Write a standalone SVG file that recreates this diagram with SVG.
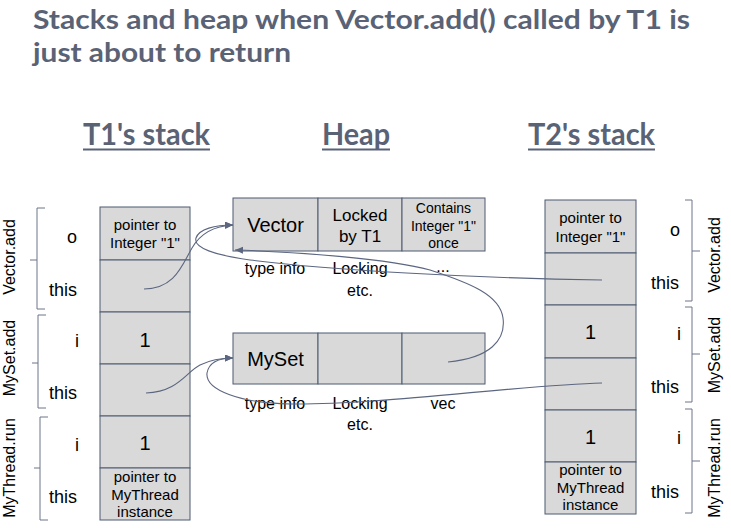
<svg xmlns="http://www.w3.org/2000/svg" width="731" height="528" viewBox="0 0 731 528">
<style>
.title{font-family:Lato,"Open Sans","Liberation Sans",sans-serif;font-weight:bold;fill:#5a6276}
.cell{fill:#d9d9d9;stroke:#4f5a70;stroke-width:1}
.t{font-family:"Liberation Sans",Arial,sans-serif;fill:#000;text-anchor:middle}
.lbl{font-family:"Liberation Sans",Arial,sans-serif;fill:#000;font-size:18px;text-anchor:middle}
.rot{font-family:"Liberation Sans",Arial,sans-serif;fill:#000;font-size:16px;text-anchor:middle}
.br{fill:none;stroke:#6b7489;stroke-width:1}
.conn{fill:none;stroke:#5b6680;stroke-width:1.1}
.ul{stroke:#5a6276;stroke-width:2}
</style>
<defs>
<marker id="arr" markerUnits="userSpaceOnUse" markerWidth="9" markerHeight="8" refX="8" refY="3.5" orient="auto">
<path d="M0,0 L8,3.5 L0,7 z" fill="#5b6680"/>
</marker>
</defs>
<rect width="731" height="528" fill="#fff"/>

<g id="title">
<text class="title" x="33" y="29" font-size="27" textLength="657" lengthAdjust="spacingAndGlyphs">Stacks and heap when Vector.add() called by T1 is</text>
<text class="title" x="33" y="62" font-size="27" textLength="258" lengthAdjust="spacingAndGlyphs">just about to return</text>
</g>

<g id="headings">
<text class="title" x="83" y="145" font-size="30" textLength="127" lengthAdjust="spacingAndGlyphs">T1's stack</text>
<line class="ul" x1="83" y1="149.5" x2="210" y2="149.5"/>
<text class="title" x="322" y="145" font-size="30" textLength="68" lengthAdjust="spacingAndGlyphs">Heap</text>
<line class="ul" x1="322" y1="149.5" x2="390" y2="149.5"/>
<text class="title" x="528" y="145" font-size="30" textLength="127" lengthAdjust="spacingAndGlyphs">T2's stack</text>
<line class="ul" x1="528" y1="149.5" x2="655" y2="149.5"/>
</g>

<g id="t1-stack">
<rect class="cell" x="100" y="207" width="90" height="53"/>
<rect class="cell" x="100" y="260" width="90" height="52"/>
<rect class="cell" x="100" y="312" width="90" height="52"/>
<rect class="cell" x="100" y="364" width="90" height="52"/>
<rect class="cell" x="100" y="416" width="90" height="52"/>
<rect class="cell" x="100" y="468" width="90" height="52"/>
<text class="t" x="145" y="230" font-size="15">pointer to</text>
<text class="t" x="145" y="248" font-size="15">Integer "1"</text>
<text class="t" x="145" y="347" font-size="20">1</text>
<text class="t" x="145" y="450" font-size="20">1</text>
<text class="t" x="145" y="482" font-size="15">pointer to</text>
<text class="t" x="145" y="500" font-size="15">MyThread</text>
<text class="t" x="145" y="517" font-size="15">instance</text>
</g>

<g id="t1-frames">
<path class="br" d="M45,208 H37 V309 H45 M37,260 H30"/>
<path class="br" d="M46,315 H38 V408 H46 M38,363 H32"/>
<path class="br" d="M48,417 H40 V520 H48 M40,468 H34"/>
<text class="rot" transform="translate(15,257) rotate(-90)">Vector.add</text>
<text class="rot" transform="translate(15,358) rotate(-90)">MySet.add</text>
<text class="rot" transform="translate(15,468) rotate(-90)">MyThread.run</text>
<text class="lbl" x="72" y="243">o</text>
<text class="lbl" x="63" y="296">this</text>
<text class="lbl" x="77" y="347">i</text>
<text class="lbl" x="63" y="399">this</text>
<text class="lbl" x="77" y="451">i</text>
<text class="lbl" x="63" y="503">this</text>
</g>

<g id="vector">
<rect class="cell" x="233" y="198" width="85" height="53"/>
<rect class="cell" x="318" y="198" width="84" height="53"/>
<rect class="cell" x="402" y="198" width="83" height="53"/>
<text class="t" x="275.5" y="232" font-size="20">Vector</text>
<text class="t" x="360" y="221" font-size="17">Locked</text>
<text class="t" x="360" y="242" font-size="17">by T1</text>
<text class="t" x="443.5" y="213" font-size="14">Contains</text>
<text class="t" x="443.5" y="231" font-size="14">Integer "1"</text>
<text class="t" x="443.5" y="248" font-size="14">once</text>
<text class="t" x="275" y="274" font-size="16">type info</text>
<text class="t" x="360" y="274" font-size="16">Locking</text>
<text class="t" x="360" y="296" font-size="16">etc.</text>
<text class="t" x="443" y="272" font-size="16">...</text>
</g>

<g id="myset">
<rect class="cell" x="233" y="333" width="85" height="51"/>
<rect class="cell" x="318" y="333" width="84" height="51"/>
<rect class="cell" x="402" y="333" width="83" height="51"/>
<text class="t" x="275.5" y="366" font-size="20">MySet</text>
<text class="t" x="275" y="409" font-size="16">type info</text>
<text class="t" x="360" y="409" font-size="16">Locking</text>
<text class="t" x="360" y="430" font-size="16">etc.</text>
<text class="t" x="443" y="409" font-size="16">vec</text>
</g>

<g id="t2-stack">
<rect class="cell" x="545" y="200" width="91" height="53"/>
<rect class="cell" x="545" y="253" width="91" height="52"/>
<rect class="cell" x="545" y="305" width="91" height="53"/>
<rect class="cell" x="545" y="358" width="91" height="52"/>
<rect class="cell" x="545" y="410" width="91" height="52"/>
<rect class="cell" x="545" y="462" width="91" height="52"/>
<text class="t" x="590.5" y="223" font-size="15">pointer to</text>
<text class="t" x="590.5" y="242" font-size="15">Integer "1"</text>
<text class="t" x="590.5" y="339" font-size="20">1</text>
<text class="t" x="590.5" y="444" font-size="20">1</text>
<text class="t" x="590.5" y="475" font-size="15">pointer to</text>
<text class="t" x="590.5" y="493" font-size="15">MyThread</text>
<text class="t" x="590.5" y="510" font-size="15">instance</text>
</g>

<g id="t2-frames">
<path class="br" d="M685,200 H692 V301 H685 M692,251 H700"/>
<path class="br" d="M685,307 H692 V402 H685 M692,354 H700"/>
<path class="br" d="M685,409 H692 V513 H685 M692,461 H700"/>
<text class="rot" transform="translate(720,255) rotate(-90)">Vector.add</text>
<text class="rot" transform="translate(720,355) rotate(-90)">MySet.add</text>
<text class="rot" transform="translate(720,468) rotate(-90)">MyThread.run</text>
<text class="lbl" x="675" y="236">o</text>
<text class="lbl" x="665" y="289">this</text>
<text class="lbl" x="679" y="340">i</text>
<text class="lbl" x="665" y="393">this</text>
<text class="lbl" x="679" y="444">i</text>
<text class="lbl" x="665" y="498">this</text>
</g>

<g id="connectors">
<path class="conn" marker-end="url(#arr)" d="M144,289 C175,289 182,265 192,248 C200,234 212,226 233,225"/>
<path class="conn" marker-end="url(#arr)" d="M602,280 C470,278 330,270 250,260 C215,255 193,248 196,238 C199,229 215,225 233,225"/>
<path class="conn" marker-end="url(#arr)" d="M448,362 C490,358 506,340 503,318 C500,295 470,283 430,270 C390,259 300,252 235,250"/>
<path class="conn" marker-end="url(#arr)" d="M146,393 C178,392 186,372 200,365 C212,359 222,358 233,358"/>
<path class="conn" marker-end="url(#arr)" d="M602,383 C520,385 380,405 290,404 C240,403 205,390 207,373 C209,362 220,358 233,358"/>
</g>
</svg>
